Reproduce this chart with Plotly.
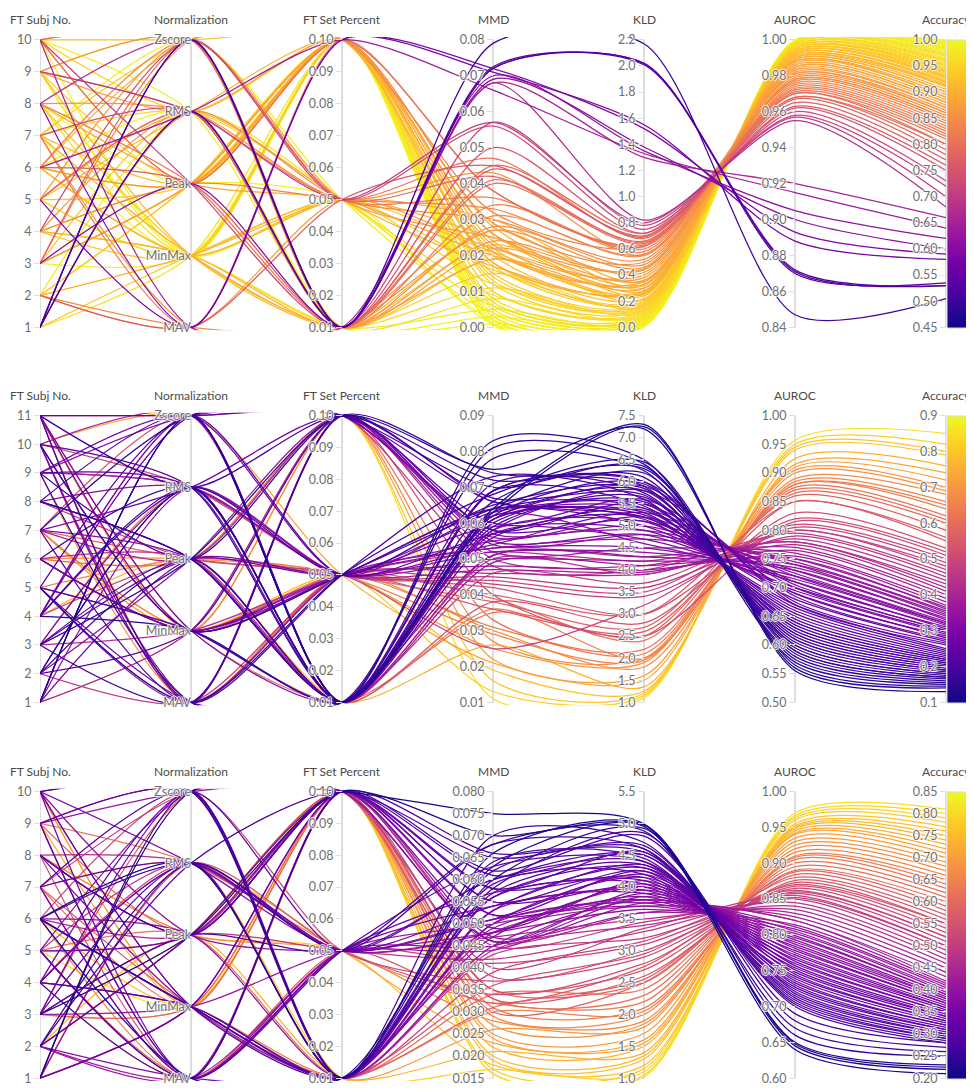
import plotly.graph_objects as go
from plotly.colors import sample_colorscale

NORM_LABELS = ["MAV", "MinMax", "Peak", "RMS", "Zscore"]  # codes 0..4
DIM_NAMES = ["FT Subj No.", "Normalization", "FT Set Percent", "MMD", "KLD", "AUROC", "Accuracy"]

# ---------------- Panel 1 ----------------
p1_subj = [1, 1, 1, 1, 5, 8, 3, 1, 6, 10,
           8, 9, 10, 4, 7, 2, 6, 3, 5, 10,
           10, 9, 8, 7, 6, 5, 4, 3, 2, 1, 10, 9, 8, 7, 6, 5, 4, 3, 2, 10, 9, 8, 7, 6, 5,
           2, 3, 4, 5, 6, 7, 9, 10, 1, 2, 3, 4, 5, 6, 7, 8, 9, 10, 2, 3, 4, 5, 6, 7, 8, 9, 10, 1, 2, 3, 4, 5, 6, 7, 9, 10, 2, 3, 4, 5, 6, 7, 8, 9, 10]
p1_norm = [4, 3, 4, 3, 0, 0, 2, 4, 3, 0,
           4, 3, 2, 4, 3, 0, 2, 4, 3, 2,
           4, 3, 2, 0, 4, 3, 2, 4, 0, 3, 2, 4, 3, 0, 2, 4, 3, 2, 0, 4, 3, 2, 1, 4, 3,
           1, 2, 1, 3, 1, 2, 1, 4, 1, 2, 3, 1, 2, 1, 4, 1, 2, 3, 1, 2, 1, 1, 2, 3, 1, 4, 2, 1, 3, 2, 1, 1, 2, 4, 1, 3, 2, 1, 2, 1, 3, 1, 2, 1, 1]
p1_pct = [0.01, 0.01, 0.01, 0.01, 0.1, 0.1, 0.01, 0.01, 0.1, 0.01,
          0.01, 0.05, 0.01, 0.05, 0.01, 0.05, 0.01, 0.05, 0.01, 0.1,
          0.01, 0.05, 0.01, 0.1, 0.05, 0.01, 0.05, 0.1, 0.01, 0.05, 0.1, 0.01, 0.05, 0.01, 0.1, 0.05, 0.01, 0.1, 0.05, 0.01, 0.1, 0.05, 0.01, 0.1, 0.05,
          0.05, 0.1, 0.01, 0.1, 0.05, 0.1, 0.01, 0.1, 0.05, 0.1, 0.01, 0.1, 0.1, 0.05, 0.1, 0.01, 0.1, 0.1, 0.05, 0.1, 0.01, 0.1, 0.1, 0.05, 0.1, 0.01, 0.1, 0.1, 0.05, 0.1, 0.01, 0.1, 0.1, 0.05, 0.1, 0.01, 0.1, 0.1, 0.05, 0.1, 0.01, 0.1, 0.1, 0.05, 0.1]
p1_mmd = [0.079, 0.072, 0.0725, 0.072, 0.071, 0.072, 0.069, 0.070, 0.066, 0.068,
          0.068, 0.057, 0.057, 0.056, 0.050, 0.045, 0.044, 0.042, 0.040, 0.038,
          0.045, 0.047, 0.041, 0.038, 0.036, 0.034, 0.033, 0.032, 0.031, 0.030, 0.029, 0.028, 0.043, 0.027, 0.026, 0.025, 0.024, 0.023, 0.022, 0.022, 0.021, 0.020, 0.019, 0.018, 0.017,
          0.030, 0.028, 0.027, 0.026, 0.025, 0.024, 0.023, 0.022, 0.021, 0.020, 0.019, 0.018, 0.017, 0.016, 0.015, 0.015, 0.014, 0.013, 0.012, 0.012, 0.011, 0.010, 0.010, 0.009, 0.008, 0.008, 0.007, 0.007, 0.006, 0.006, 0.005, 0.005, 0.004, 0.004, 0.003, 0.003, 0.003, 0.002, 0.002, 0.002, 0.001, 0.001, 0.001, 0.001, 0.0005]
p1_kld = [2.17, 2.02, 2.01, 2.02, 1.55, 1.52, 1.38, 1.35, 1.33, 1.30,
          0.82, 0.80, 0.78, 0.75, 0.72, 0.70, 0.69, 0.66, 0.64, 0.62,
          0.72, 0.68, 0.65, 0.63, 0.60, 0.58, 0.56, 0.62, 0.55, 0.52, 0.50, 0.48, 0.55, 0.46, 0.45, 0.44, 0.42, 0.40, 0.38, 0.36, 0.35, 0.33, 0.30, 0.28, 0.26,
          0.35, 0.33, 0.30, 0.32, 0.28, 0.26, 0.25, 0.27, 0.24, 0.22, 0.21, 0.20, 0.19, 0.18, 0.17, 0.16, 0.16, 0.15, 0.14, 0.13, 0.12, 0.12, 0.11, 0.10, 0.09, 0.09, 0.08, 0.07, 0.07, 0.06, 0.05, 0.05, 0.04, 0.04, 0.03, 0.03, 0.02, 0.02, 0.02, 0.01, 0.01, 0.01, 0.01, 0.005, 0.005]
p1_auroc = [0.847, 0.871, 0.872, 0.870, 0.888, 0.893, 0.900, 0.905, 0.915, 0.920,
            0.955, 0.957, 0.958, 0.960, 0.962, 0.963, 0.965, 0.967, 0.968, 0.970,
            0.968, 0.970, 0.971, 0.972, 0.973, 0.974, 0.975, 0.976, 0.977, 0.978, 0.978, 0.979, 0.980, 0.981, 0.981, 0.982, 0.983, 0.984, 0.985, 0.985, 0.986, 0.987, 0.988, 0.988, 0.989,
            0.989, 0.990, 0.990, 0.991, 0.991, 0.992, 0.992, 0.992, 0.993, 0.993, 0.993, 0.994, 0.994, 0.994, 0.995, 0.995, 0.995, 0.995, 0.996, 0.996, 0.996, 0.996, 0.997, 0.997, 0.997, 0.997, 0.998, 0.998, 0.998, 0.998, 0.998, 0.999, 0.999, 0.999, 0.999, 0.999, 0.999, 0.999, 0.9995, 0.9995, 0.9995, 0.9995, 0.9995, 0.9998, 0.9998]
p1_acc = [0.505, 0.53, 0.53, 0.535, 0.58, 0.59, 0.60, 0.62, 0.64, 0.66,
          0.68, 0.70, 0.72, 0.73, 0.75, 0.76, 0.77, 0.78, 0.79, 0.80,
          0.80, 0.81, 0.815, 0.82, 0.825, 0.83, 0.835, 0.84, 0.845, 0.85, 0.85, 0.855, 0.86, 0.86, 0.865, 0.87, 0.87, 0.875, 0.88, 0.88, 0.885, 0.89, 0.89, 0.895, 0.90,
          0.900, 0.905, 0.91, 0.912, 0.915, 0.918, 0.92, 0.922, 0.925, 0.928, 0.93, 0.932, 0.935, 0.938, 0.94, 0.942, 0.945, 0.948, 0.95, 0.952, 0.955, 0.958, 0.96, 0.962, 0.965, 0.968, 0.97, 0.972, 0.975, 0.977, 0.98, 0.982, 0.984, 0.986, 0.988, 0.99, 0.991, 0.992, 0.993, 0.994, 0.995, 0.996, 0.997, 0.998, 0.999]

# ---------------- Panel 2 ----------------
p2_subj = [1, 2, 3, 4, 5, 6, 7, 8, 9, 10, 11, 1, 2, 3, 4, 5, 8, 9, 10, 11, 1, 2, 3, 4, 5, 7, 8, 9, 10, 11,
           2, 3, 4, 5, 6, 7, 8, 9, 10, 11, 1, 3, 4, 5, 6, 7, 8, 9, 10, 11, 1, 2, 4, 5, 6, 7, 9, 10, 11, 1,
           3, 6, 9, 11, 2, 5, 8, 10, 1, 4, 7, 11,
           6, 7, 11, 10, 6, 7, 3, 5, 11, 9, 6, 7, 10, 4, 6, 11, 7, 6]
p2_norm = [4, 3, 2, 1, 0, 3, 4, 2, 0, 1, 3, 4, 2, 0, 3, 1, 4, 2, 3, 0, 4, 1, 2, 3, 4, 0, 2, 3, 1, 4,
           3, 2, 4, 0, 1, 3, 2, 4, 0, 1, 2, 3, 4, 0, 1, 2, 3, 4, 0, 1, 3, 2, 4, 0, 1, 2, 3, 4, 0, 1,
           1, 2, 3, 4, 0, 1, 2, 3, 1, 2, 4, 1,
           1, 2, 1, 0, 2, 1, 3, 2, 1, 0, 2, 1, 4, 2, 1, 0, 1, 2]
p2_pct = [0.01, 0.01, 0.1, 0.01, 0.05, 0.01, 0.1, 0.01, 0.01, 0.05, 0.1, 0.01, 0.01, 0.1, 0.05, 0.01, 0.01, 0.1, 0.01, 0.05, 0.01, 0.1, 0.01, 0.01, 0.05, 0.1, 0.01, 0.01, 0.05, 0.1,
          0.01, 0.05, 0.1, 0.01, 0.05, 0.1, 0.01, 0.05, 0.1, 0.01, 0.05, 0.05, 0.01, 0.1, 0.05, 0.01, 0.05, 0.1, 0.01, 0.05, 0.05, 0.1, 0.01, 0.05, 0.05, 0.1, 0.05, 0.01, 0.05, 0.1,
          0.05, 0.01, 0.05, 0.1, 0.05, 0.01, 0.05, 0.05, 0.1, 0.05, 0.01, 0.05,
          0.05, 0.05, 0.01, 0.05, 0.1, 0.05, 0.01, 0.05, 0.1, 0.05, 0.05, 0.1, 0.05, 0.01, 0.05, 0.1, 0.05, 0.1]
p2_mmd = [0.064, 0.063, 0.075, 0.083, 0.068, 0.081, 0.070, 0.066, 0.078, 0.064, 0.072, 0.069, 0.062, 0.074, 0.065, 0.061, 0.071, 0.067, 0.059, 0.073, 0.060, 0.058, 0.069, 0.063, 0.057, 0.066, 0.061, 0.056, 0.064, 0.058,
          0.069, 0.062, 0.066, 0.058, 0.064, 0.060, 0.057, 0.063, 0.055, 0.061, 0.059, 0.054, 0.062, 0.056, 0.053, 0.058, 0.052, 0.057, 0.051, 0.055, 0.050, 0.054, 0.049, 0.053, 0.048, 0.052, 0.047, 0.051, 0.046, 0.050,
          0.052, 0.050, 0.045, 0.048, 0.043, 0.046, 0.025, 0.044, 0.040, 0.042, 0.038, 0.036,
          0.040, 0.038, 0.035, 0.039, 0.033, 0.031, 0.036, 0.029, 0.027, 0.030, 0.025, 0.022, 0.021, 0.026, 0.019, 0.016, 0.013, 0.011]
p2_kld = [7.3, 7.25, 7.2, 6.5, 6.45, 6.4, 6.35, 6.3, 6.25, 6.2, 6.1, 6.0, 5.95, 5.9, 5.85, 5.8, 5.75, 5.7, 5.65, 5.6, 5.55, 5.5, 5.45, 5.4, 5.35, 5.3, 5.25, 5.2, 5.15, 5.1,
          6.0, 5.9, 5.2, 5.8, 5.0, 5.6, 4.9, 5.5, 4.8, 5.4, 4.7, 5.3, 4.6, 5.2, 4.5, 5.1, 4.4, 5.0, 4.3, 4.9, 4.2, 4.8, 4.1, 4.7, 4.0, 4.5, 3.95, 4.3, 3.9, 4.1,
          4.2, 3.9, 3.6, 4.0, 3.4, 3.7, 3.2, 3.5, 2.5, 3.0, 2.8, 2.6,
          3.0, 2.7, 2.5, 2.4, 2.2, 2.1, 2.0, 1.95, 2.0, 1.8, 1.9, 1.6, 1.5, 1.35, 1.25, 1.2, 1.15, 1.1]
p2_auroc = [0.555, 0.56, 0.565, 0.57, 0.575, 0.58, 0.585, 0.59, 0.59, 0.595, 0.60, 0.60, 0.605, 0.61, 0.61, 0.615, 0.62, 0.62, 0.625, 0.63, 0.63, 0.635, 0.64, 0.64, 0.645, 0.65, 0.655, 0.66, 0.665, 0.67,
            0.67, 0.675, 0.68, 0.685, 0.69, 0.69, 0.695, 0.70, 0.70, 0.705, 0.71, 0.71, 0.715, 0.72, 0.72, 0.725, 0.73, 0.73, 0.735, 0.74, 0.74, 0.745, 0.75, 0.75, 0.755, 0.76, 0.765, 0.77, 0.775, 0.78,
            0.78, 0.785, 0.79, 0.795, 0.80, 0.80, 0.805, 0.81, 0.815, 0.82, 0.83, 0.85,
            0.85, 0.86, 0.865, 0.87, 0.875, 0.88, 0.88, 0.885, 0.89, 0.90, 0.905, 0.91, 0.915, 0.925, 0.94, 0.945, 0.95, 0.957]
p2_acc = [0.13, 0.14, 0.145, 0.15, 0.155, 0.16, 0.165, 0.17, 0.17, 0.175, 0.18, 0.18, 0.185, 0.19, 0.19, 0.195, 0.20, 0.20, 0.205, 0.21, 0.21, 0.215, 0.22, 0.22, 0.225, 0.23, 0.235, 0.24, 0.245, 0.25,
          0.26, 0.265, 0.27, 0.275, 0.28, 0.285, 0.29, 0.295, 0.30, 0.30, 0.305, 0.31, 0.315, 0.32, 0.32, 0.325, 0.33, 0.335, 0.34, 0.345, 0.35, 0.355, 0.36, 0.365, 0.37, 0.38, 0.39, 0.40, 0.41, 0.42,
          0.43, 0.44, 0.45, 0.46, 0.47, 0.48, 0.49, 0.50, 0.51, 0.52, 0.53, 0.55,
          0.56, 0.58, 0.60, 0.61, 0.62, 0.64, 0.65, 0.66, 0.68, 0.69, 0.70, 0.72, 0.74, 0.76, 0.79, 0.80, 0.82, 0.85]

# ---------------- Panel 3 ----------------
p3_subj = [1, 6, 6, 3, 10, 2, 6, 4,
           1, 2, 3, 4, 5, 6, 7, 8, 9, 10, 2, 3, 4, 5, 6, 7, 8, 9, 10, 1, 3, 4, 5, 6, 7, 8, 9, 10, 1, 2, 4, 5, 6, 7, 8, 9, 10, 1, 2, 3,
           2, 4, 6, 8, 10, 1, 3, 5, 7, 9, 2, 4, 6, 8, 10, 1, 3, 5, 7, 9,
           3, 5, 7, 9, 2, 4, 6, 8, 10, 1, 3, 5, 7, 9, 2, 4, 6, 8, 10, 1, 3, 5]
p3_norm = [4, 3, 0, 2, 4, 3, 1, 0,
           4, 3, 2, 1, 0, 3, 4, 2, 0, 1, 2, 3, 4, 0, 1, 3, 2, 4, 0, 1, 4, 3, 2, 1, 0, 2, 4, 3, 1, 0, 3, 4, 2, 0, 1, 4, 2, 3, 0, 1,
           0, 1, 2, 3, 4, 1, 2, 3, 4, 0, 2, 3, 4, 0, 1, 3, 4, 0, 1, 2,
           1, 2, 1, 3, 2, 1, 0, 2, 1, 4, 1, 2, 3, 1, 2, 0, 1, 2, 1, 3, 2, 1]
p3_pct = [0.1, 0.01, 0.01, 0.1, 0.01, 0.05, 0.01, 0.1,
          0.01, 0.1, 0.05, 0.01, 0.1, 0.05, 0.01, 0.1, 0.05, 0.01, 0.1, 0.01, 0.05, 0.1, 0.01, 0.05, 0.1, 0.01, 0.05, 0.1, 0.01, 0.05, 0.1, 0.01, 0.05, 0.1, 0.01, 0.05, 0.1, 0.01, 0.05, 0.1, 0.01, 0.05, 0.01, 0.1, 0.05, 0.01, 0.1, 0.05,
          0.05, 0.01, 0.1, 0.05, 0.01, 0.1, 0.05, 0.01, 0.1, 0.05, 0.1, 0.01, 0.05, 0.1, 0.01, 0.05, 0.1, 0.05, 0.01, 0.1,
          0.1, 0.01, 0.1, 0.05, 0.1, 0.01, 0.1, 0.05, 0.1, 0.01, 0.1, 0.1, 0.05, 0.1, 0.01, 0.1, 0.1, 0.05, 0.1, 0.01, 0.1, 0.1]
p3_mmd = [0.075, 0.066, 0.063, 0.070, 0.060, 0.068, 0.058, 0.062,
          0.070, 0.065, 0.068, 0.062, 0.066, 0.060, 0.064, 0.058, 0.063, 0.057, 0.061, 0.056, 0.060, 0.055, 0.059, 0.054, 0.058, 0.053, 0.057, 0.052, 0.056, 0.051, 0.055, 0.050, 0.054, 0.049, 0.053, 0.048, 0.052, 0.047, 0.051, 0.046, 0.050, 0.045, 0.049, 0.046, 0.048, 0.045, 0.047, 0.044,
          0.050, 0.048, 0.046, 0.047, 0.044, 0.045, 0.042, 0.043, 0.040, 0.041, 0.038, 0.039, 0.037, 0.035, 0.036, 0.034, 0.033, 0.032, 0.031, 0.030,
          0.035, 0.034, 0.033, 0.032, 0.031, 0.030, 0.029, 0.028, 0.027, 0.026, 0.025, 0.024, 0.023, 0.022, 0.021, 0.020, 0.019, 0.018, 0.017, 0.017, 0.016, 0.016]
p3_kld = [4.99, 4.98, 4.97, 4.95, 4.92, 4.88, 4.85, 4.80,
          4.7, 4.65, 4.6, 4.55, 4.6, 4.5, 4.45, 4.55, 4.4, 4.35, 4.5, 4.3, 4.4, 4.25, 4.2, 4.35, 4.15, 4.3, 4.1, 4.25, 4.05, 4.2, 4.0, 4.15, 3.95, 4.1, 3.9, 4.05, 3.85, 4.0, 3.8, 3.95, 3.75, 3.9, 3.7, 3.85, 3.65, 3.8, 3.6, 3.75,
          3.8, 3.7, 3.6, 3.5, 3.4, 3.45, 3.3, 3.2, 3.35, 3.1, 3.0, 3.15, 2.9, 2.8, 2.95, 2.7, 2.6, 2.75, 2.55, 2.5,
          2.5, 2.4, 2.3, 2.2, 2.1, 2.05, 2.0, 1.9, 1.85, 1.8, 1.7, 1.6, 1.55, 1.5, 1.4, 1.35, 1.3, 1.2, 1.15, 1.1, 1.05, 1.02]
p3_auroc = [0.64, 0.645, 0.648, 0.65, 0.66, 0.67, 0.68, 0.69,
            0.700, 0.703, 0.706, 0.709, 0.712, 0.715, 0.718, 0.721, 0.724, 0.727, 0.730, 0.733, 0.736, 0.739, 0.742, 0.745, 0.748, 0.751, 0.754, 0.757, 0.760, 0.763, 0.766, 0.769, 0.772, 0.775, 0.778, 0.781, 0.784, 0.787, 0.790, 0.793, 0.796, 0.799, 0.802, 0.805, 0.808, 0.811, 0.814, 0.820,
            0.820, 0.825, 0.830, 0.835, 0.840, 0.845, 0.850, 0.852, 0.855, 0.858, 0.860, 0.862, 0.865, 0.868, 0.870, 0.873, 0.876, 0.880, 0.884, 0.888,
            0.890, 0.895, 0.900, 0.905, 0.908, 0.910, 0.915, 0.920, 0.925, 0.930, 0.935, 0.940, 0.942, 0.945, 0.948, 0.950, 0.952, 0.955, 0.960, 0.963, 0.966, 0.970]
p3_acc = [0.21, 0.22, 0.225, 0.23, 0.25, 0.26, 0.27, 0.28,
          0.28, 0.285, 0.29, 0.29, 0.295, 0.30, 0.30, 0.305, 0.31, 0.31, 0.315, 0.32, 0.32, 0.325, 0.33, 0.33, 0.335, 0.34, 0.34, 0.345, 0.35, 0.35, 0.355, 0.36, 0.36, 0.365, 0.37, 0.37, 0.375, 0.38, 0.38, 0.385, 0.39, 0.39, 0.395, 0.40, 0.405, 0.41, 0.415, 0.42,
          0.43, 0.44, 0.45, 0.46, 0.47, 0.48, 0.49, 0.50, 0.50, 0.51, 0.52, 0.52, 0.53, 0.54, 0.55, 0.55, 0.56, 0.57, 0.58, 0.59,
          0.60, 0.61, 0.62, 0.63, 0.64, 0.65, 0.66, 0.67, 0.68, 0.69, 0.70, 0.71, 0.72, 0.73, 0.74, 0.75, 0.76, 0.77, 0.78, 0.79, 0.80, 0.81]


def frange(a, b, step, nd):
    out, v = [], a
    while v <= b + 1e-9:
        out.append(round(v, nd))
        v += step
    return out


# per-panel axis specs: (lo, hi, tickvals, ticktext or None, tickformat)
def panel_axes(subj_max, mmd, kld, auroc, acc):
    return [
        (1, subj_max, list(range(1, subj_max + 1)), None, "d"),
        (0, 4, [0, 1, 2, 3, 4], NORM_LABELS, None),
        (0.01, 0.1, frange(0.01, 0.1, 0.01, 3), None, ".2f"),
        mmd, kld, auroc, acc,
    ]


# px = (top, bottom) of each panel's axes in figure pixels
PANELS = [
    dict(data=[p1_subj, p1_norm, p1_pct, p1_mmd, p1_kld, p1_auroc, p1_acc],
         axes=panel_axes(10,
                         (0.0, 0.08, frange(0, 0.08, 0.01, 3), None, ".2f"),
                         (0.0, 2.2, frange(0, 2.2, 0.2, 2), None, ".1f"),
                         (0.84, 1.0, frange(0.84, 1.0, 0.02, 3), None, ".2f"),
                         (0.45, 1.0, frange(0.45, 1.0, 0.05, 3), None, ".2f")),
         px=(27, 317)),
    dict(data=[p2_subj, p2_norm, p2_pct, p2_mmd, p2_kld, p2_auroc, p2_acc],
         axes=panel_axes(11,
                         (0.01, 0.09, frange(0.01, 0.09, 0.01, 3), None, ".2f"),
                         (1.0, 7.5, frange(1.0, 7.5, 0.5, 2), None, ".1f"),
                         (0.5, 1.0, frange(0.5, 1.0, 0.05, 3), None, ".2f"),
                         (0.1, 0.9, frange(0.1, 0.9, 0.1, 3), None, ".1f")),
         px=(406, 695)),
    dict(data=[p3_subj, p3_norm, p3_pct, p3_mmd, p3_kld, p3_auroc, p3_acc],
         axes=panel_axes(10,
                         (0.015, 0.08, frange(0.015, 0.08, 0.005, 4), None, ".3f"),
                         (1.0, 5.5, frange(1.0, 5.5, 0.5, 2), None, ".1f"),
                         (0.6, 1.0, frange(0.6, 1.0, 0.05, 3), None, ".2f"),
                         (0.2, 0.85, frange(0.2, 0.85, 0.05, 3), None, ".2f")),
         px=(785, 1074)),
]

W, H = 974, 1090
PAD = 0.01
NDIM = 7
FONT = "Source Sans Pro, Lato, sans-serif"
AXIS_COLOR = "#dedede"
HALO = "1px 0px 1px #fff, -1px 0px 1px #fff, 0px 1px 1px #fff, 0px -1px 1px #fff"
TICK_FONT = dict(family=FONT, size=12.5, color="#6f6f6f", shadow=HALO)
TITLE_FONT = dict(family=FONT, size=12, color="#4a4a4a")

fig = go.Figure()
layout = dict(
    width=W, height=H,
    margin=dict(l=32, r=36, t=0, b=0),
    paper_bgcolor="white", plot_bgcolor="white",
    font=dict(family=FONT),
    showlegend=False,
    xaxis=dict(range=[0, NDIM - 1], visible=False, fixedrange=True, domain=[0, 1]),
)
annotations = []

for pi, P in enumerate(PANELS):
    top_px, bot_px = P["px"]
    h = bot_px - top_px
    dom = [(H - (bot_px + PAD * h)) / H, (H - (top_px - PAD * h)) / H]
    base = "y" if pi == 0 else f"y{pi + 1}"
    base_key = "yaxis" if pi == 0 else f"yaxis{pi + 1}"
    layout[base_key] = dict(domain=dom, range=[-PAD, 1 + PAD], visible=False, fixedrange=True)

    cols = P["data"]
    n = min(len(c) for c in cols)
    cols = [c[:n] for c in cols]
    axes = P["axes"]

    # axis lines (drawn below the data lines)
    for k in range(NDIM):
        fig.add_trace(go.Scatter(x=[k, k], y=[0, 1], mode="lines", yaxis=base,
                                 line=dict(color=AXIS_COLOR, width=2),
                                 hoverinfo="skip"))

    # per-dimension tick axes
    for k, (lo, hi, tv, tt, tf) in enumerate(axes):
        idx = 4 + pi * NDIM + k
        span = hi - lo
        ax = dict(overlaying=base, anchor="free", position=k / (NDIM - 1), side="left",
                  range=[lo - PAD * span, hi + PAD * span], tickvals=tv,
                  showgrid=False, zeroline=False, showline=False, fixedrange=True,
                  tickfont=TICK_FONT, ticks="outside" if tt is None else "",
                  ticklen=6, tickcolor=AXIS_COLOR, tickwidth=1)
        if tt is not None:
            ax["ticktext"] = tt
        if tf:
            ax["tickformat"] = tf
        layout[f"yaxis{idx}"] = ax
        fig.add_trace(go.Scatter(x=[None], y=[None], yaxis=f"y{idx}", hoverinfo="skip"))
        annotations.append(dict(x=k, xref="x", y=(H - top_px) / H, yref="paper",
                                yshift=11, yanchor="bottom", showarrow=False,
                                text=DIM_NAMES[k], font=TITLE_FONT))

    # data lines, coloured by accuracy (Plasma), lowest accuracy drawn last (on top)
    alo, ahi = axes[6][0], axes[6][1]
    acc = cols[6]
    order = sorted(range(n), key=lambda i: -acc[i])
    colors = sample_colorscale("Plasma", [min(max((a - alo) / (ahi - alo), 0), 1) for a in acc])
    for i in order:
        ys = [(cols[k][i] - axes[k][0]) / (axes[k][1] - axes[k][0]) for k in range(NDIM)]
        fig.add_trace(go.Scatter(x=list(range(NDIM)), y=ys, mode="lines", yaxis=base,
                                 line=dict(color=colors[i], width=1.25, shape="spline", smoothing=0.75),
                                 hoverinfo="skip"))

    # colour bar attached to the Accuracy axis
    fig.add_trace(go.Scatter(
        x=[NDIM - 1], y=[0.5], yaxis=base, mode="markers", hoverinfo="skip",
        marker=dict(size=1, opacity=0, color=[alo], colorscale="Plasma", cmin=alo, cmax=ahi,
                    showscale=True,
                    colorbar=dict(x=1.0, xanchor="left", xpad=1, ypad=0, thickness=30,
                                  y=(H - top_px) / H, yanchor="top", len=h / H, lenmode="fraction",
                                  showticklabels=False, ticks="", outlinewidth=1,
                                  outlinecolor="#d6d6d6"))))

layout["annotations"] = annotations
fig.update_layout(**layout)
fig.write_html("out.html")
